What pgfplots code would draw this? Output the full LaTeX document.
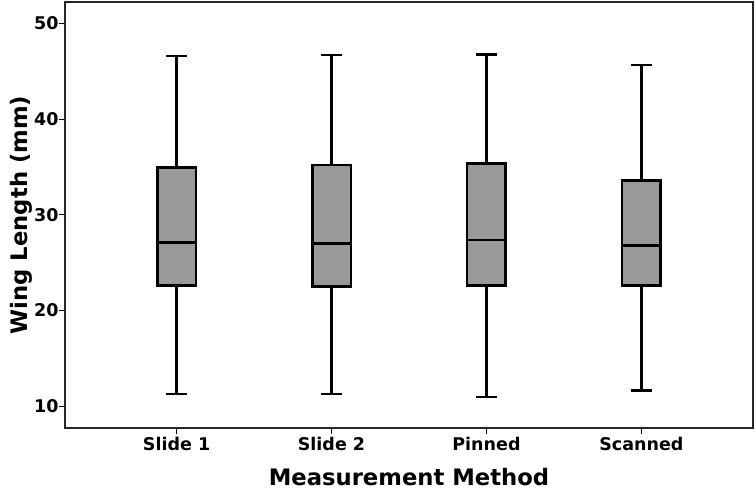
\documentclass[border=0pt]{standalone}
\usepackage{fontspec}
\setmainfont{DejaVu Sans}
\usepackage{pgfplots}
\pgfplotsset{compat=1.18}
\usepgfplotslibrary{statistics}
\definecolor{boxgray}{RGB}{153,153,153}
\begin{document}
\begin{tikzpicture}
\begin{axis}[
  name=main,
  at={(0,0)}, anchor=south west,
  scale only axis, width=688pt, height=426pt,
  xmin=0.28, xmax=4.72, ymin=7.73, ymax=52.23,
  xtick={1,2,3,4}, xticklabels={Slide 1, Slide 2, Pinned, Scanned},
  ytick={10,20,30,40,50},
  xtick pos=left, ytick pos=left,
  tick align=outside, major tick length=6pt,
  tick style={line width=1pt, black},
  axis line style={line width=1.2pt, black!85},
  /pgf/number format/assume math mode=true,
  ticklabel style={font=\fontsize{17.5}{19}\selectfont\bfseries},
  yticklabel style={xshift=3pt},
  xlabel={Measurement Method}, ylabel={Wing Length (mm)},
  label style={font=\fontsize{22.7}{26}\selectfont\bfseries},
  xlabel style={yshift=-10pt},
  ylabel style={yshift=-5pt},
  boxplot/draw direction=y,
  every boxplot/.style={fill=boxgray, draw=black, line width=2.7pt},
]
\addplot[boxplot prepared={draw position=1, lower whisker=11.27, lower quartile=22.65, median=27.12, upper quartile=34.95, upper whisker=46.58, box extend=0.25, whisker extend=0.13}, fill=boxgray, draw=black, line width=2.7pt] coordinates {};
\addplot[boxplot prepared={draw position=2, lower whisker=11.27, lower quartile=22.48, median=27.0, upper quartile=35.19, upper whisker=46.69, box extend=0.25, whisker extend=0.13}, fill=boxgray, draw=black, line width=2.7pt] coordinates {};
\addplot[boxplot prepared={draw position=3, lower whisker=10.98, lower quartile=22.65, median=27.36, upper quartile=35.37, upper whisker=46.72, box extend=0.25, whisker extend=0.13}, fill=boxgray, draw=black, line width=2.7pt] coordinates {};
\addplot[boxplot prepared={draw position=4, lower whisker=11.67, lower quartile=22.65, median=26.76, upper quartile=33.55, upper whisker=45.64, box extend=0.25, whisker extend=0.13}, fill=boxgray, draw=black, line width=2.7pt] coordinates {};
\end{axis}
\pgfresetboundingbox
\path (main.south west) ++(-65pt,-62pt) rectangle ++(756pt,490pt);
\end{tikzpicture}
\end{document}
